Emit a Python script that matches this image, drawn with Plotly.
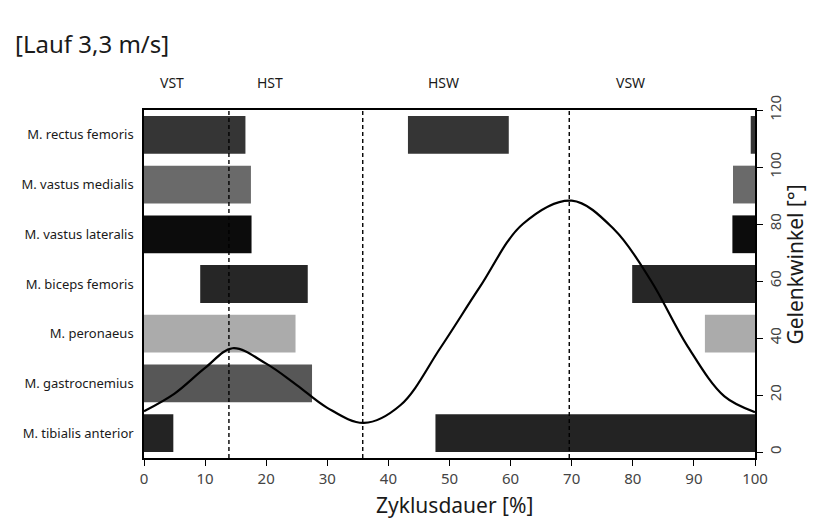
import plotly.graph_objects as go

# --- data ---
muscles = ["M. rectus femoris", "M. vastus medialis", "M. vastus lateralis",
           "M. biceps femoris", "M. peronaeus", "M. gastrocnemius", "M. tibialis anterior"]
# activity segments (start %, end %) per muscle
seg1_start = [0, 0, 0, 9.2, 0, 0, 0]
seg1_end = [16.6, 17.5, 17.6, 26.8, 24.8, 27.5, 4.8]
seg2_start = [43.2, 96.4, 96.3, 79.9, 91.8, None, 47.7]
seg2_end = [59.7, 100, 100, 100, 100, None, 100]
seg3_start = [99.3, None, None, None, None, None, None]
seg3_end = [100, None, None, None, None, None, None]
bar_colors = ["#353535", "#6a6a6a", "#0c0c0c", "#262626", "#ababab", "#575757", "#232323"]

cycle_pct = [0, 5, 10, 14.5, 20, 25, 30, 36, 42, 48.5, 55, 62, 70, 77, 83, 89, 95, 100]
knee_angle = [14.3, 20.5, 29.5, 36.4, 31, 23.5, 15.5, 10.2, 16.5, 36.5, 58, 80, 88.2, 78,
              60, 37, 19.5, 14]

phase_lines = [13.9, 35.8, 69.6]
phase_labels = ["VST", "HST", "HSW", "VSW"]
phase_label_x = [4.6, 20.6, 49, 79.6]

x_ticks = list(range(0, 101, 10))
y2_ticks = list(range(0, 121, 20))

fig = go.Figure()

for starts, ends in [(seg1_start, seg1_end), (seg2_start, seg2_end), (seg3_start, seg3_end)]:
    ys, xs, bs, cs = [], [], [], []
    for m, s, e, c in zip(muscles, starts, ends, bar_colors):
        if s is None:
            continue
        ys.append(m); bs.append(s); xs.append(e - s); cs.append(c)
    fig.add_trace(go.Bar(y=ys, x=xs, base=bs, orientation="h", width=0.76,
                         marker=dict(color=cs, line=dict(width=0)),
                         showlegend=False, hoverinfo="skip"))

fig.add_trace(go.Scatter(x=cycle_pct, y=knee_angle, mode="lines", yaxis="y2",
                         line=dict(color="black", width=2.2, shape="spline", smoothing=1.0),
                         showlegend=False))

shapes = []
for xv in phase_lines:
    shapes.append(dict(type="line", xref="x", yref="paper", x0=xv, x1=xv, y0=0, y1=1,
                       line=dict(color="black", width=1.4, dash="4px,3px"), layer="above"))

annotations = [
    dict(text="[Lauf 3,3 m/s]", xref="paper", yref="paper", x=-0.214, y=1.19,
         xanchor="left", yanchor="middle", showarrow=False,
         font=dict(size=24, color="#1a1a1a")),
    dict(text="Zyklusdauer [%]", xref="paper", yref="paper", x=0.509, y=-0.135,
         xanchor="center", yanchor="middle", showarrow=False,
         font=dict(size=21, color="#1a1a1a")),
    dict(text="Gelenkwinkel [°]", xref="paper", yref="paper", x=1.065, y=0.555,
         xanchor="center", yanchor="middle", showarrow=False, textangle=-90,
         font=dict(size=21, color="#1a1a1a")),
]
for lbl, xv in zip(phase_labels, phase_label_x):
    annotations.append(dict(text=lbl, xref="x", yref="paper", x=xv, y=1.08, showarrow=False,
                            xanchor="center", yanchor="middle",
                            font=dict(size=14, color="#1a1a1a")))

fig.update_layout(
    width=817, height=524,
    margin=dict(l=144, r=62, t=110, b=66),
    plot_bgcolor="white", paper_bgcolor="white",
    font=dict(family="Noto Sans", color="#1a1a1a"),
    barmode="overlay",
    shapes=shapes, annotations=annotations,
    xaxis=dict(range=[0, 100], tickvals=x_ticks, ticks="outside", ticklen=6,
               tickcolor="black", showline=True, linecolor="black", linewidth=1.5,
               mirror=True, showgrid=False, zeroline=False, automargin=False,
               tickfont=dict(size=15, color="#444")),
    yaxis=dict(categoryorder="array", categoryarray=muscles[::-1], range=[-0.5, 6.5],
               showline=True, linecolor="black", linewidth=1.5, showgrid=False,
               automargin=False,
               ticks="", tickfont=dict(size=13, color="#1a1a1a"), ticklabelstandoff=6),
    yaxis2=dict(overlaying="y", side="right", range=[-2.1, 120], tickvals=y2_ticks,
                ticks="outside", ticklen=6, tickcolor="black", showline=True,
                linecolor="black", linewidth=1.5, showgrid=False, zeroline=False,
                automargin=False,
                tickangle=-90, tickfont=dict(size=15, color="#444")),
)

fig.write_html("out.html", config={"displayModeBar": False},
               post_script="document.body.style.margin='0';")
